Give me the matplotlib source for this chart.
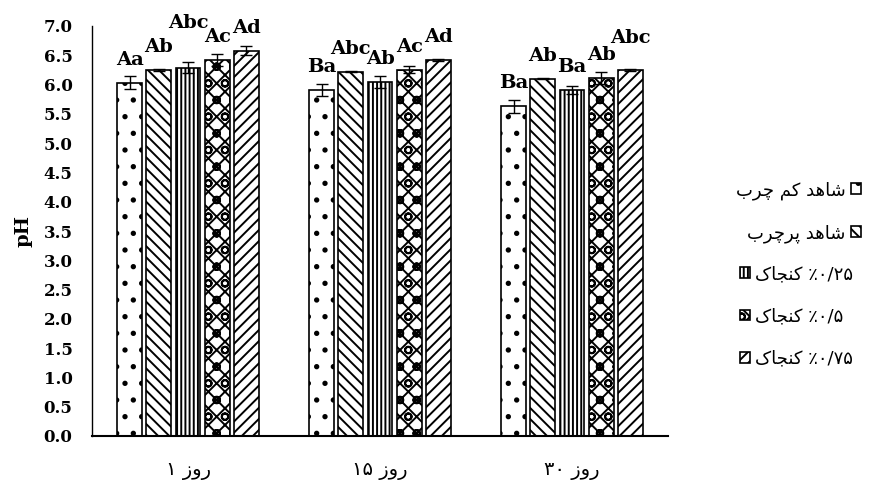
import numpy as np
import matplotlib
matplotlib.use('Agg')
import matplotlib.pyplot as plt
from matplotlib import font_manager
from matplotlib.ft2font import FT2Font

# data
days = ['روز ۱', 'روز ۱۵', 'روز ۳۰']
series = ['شاهد کم چرب', 'شاهد پرچرب', '٪۰/۲۵ کنجاک', '٪۰/۵ کنجاک', '٪۰/۷۵ کنجاک']
ph = [
    [6.03, 5.91, 5.63],
    [6.25, 6.22, 6.10],
    [6.29, 6.05, 5.91],
    [6.42, 6.25, 6.11],
    [6.58, 6.42, 6.25],
]
ph_err = [
    [0.11, 0.10, 0.11],
    [0.01, 0.01, 0.01],
    [0.10, 0.10, 0.07],
    [0.10, 0.06, 0.10],
    [0.08, 0.01, 0.01],
]
letters = [
    ['Aa', 'Ba', 'Ba'],
    ['Ab', 'Abc', 'Ab'],
    ['Abc', 'Ab', 'Ba'],
    ['Ac', 'Ac', 'Ab'],
    ['Ad', 'Ad', 'Abc'],
]
yticks = np.arange(0, 7.01, 0.5)

hatches = ['.', '\\\\\\', '||||', 'xxo', '///']

# minimal persian shaping (matplotlib does no arabic shaping / bidi)
FORMS = {
    'ا': ('\uFE8D', '\uFE8E', None, None),
    'ب': ('\uFE8F', '\uFE90', '\uFE91', '\uFE92'),
    'پ': ('\uFB56', '\uFB57', '\uFB58', '\uFB59'),
    'ج': ('\uFE9D', '\uFE9E', '\uFE9F', '\uFEA0'),
    'چ': ('\uFB7A', '\uFB7B', '\uFB7C', '\uFB7D'),
    'د': ('\uFEA9', '\uFEAA', None, None),
    'ر': ('\uFEAD', '\uFEAE', None, None),
    'ز': ('\uFEAF', '\uFEB0', None, None),
    'ش': ('\uFEB5', '\uFEB6', '\uFEB7', '\uFEB8'),
    'ک': ('\uFB8E', '\uFB8F', '\uFB90', '\uFB91'),
    'م': ('\uFEE1', '\uFEE2', '\uFEE3', '\uFEE4'),
    'ن': ('\uFEE5', '\uFEE6', '\uFEE7', '\uFEE8'),
    'ه': ('\uFEE9', '\uFEEA', '\uFEEB', '\uFEEC'),
    'و': ('\uFEED', '\uFEEE', None, None),
}
cmap = FT2Font(font_manager.findfont('DejaVu Sans')).get_charmap()


def shape_word(w):
    out = []
    for i, ch in enumerate(w):
        if ch not in FORMS:
            out.append(ch)
            continue
        iso, fin, ini, med = FORMS[ch]
        prev = w[i - 1] if i > 0 else None
        nxt = w[i + 1] if i + 1 < len(w) else None
        jp = prev in FORMS and FORMS[prev][2] is not None
        jn = ini is not None and nxt in FORMS
        if jp and jn:
            f = med
        elif jp:
            f = fin
        elif jn:
            f = ini
        else:
            f = iso
        out.append(f if ord(f) in cmap else ch)
    return ''.join(reversed(out))


def fa(text):
    parts = []
    for tok in text.split(' '):
        if any(c in FORMS for c in tok):
            parts.append(shape_word(tok))
        else:
            parts.append(tok)
    return ' '.join(reversed(parts))


plt.rcParams['hatch.linewidth'] = 1.4
plt.rcParams['font.family'] = 'DejaVu Serif'

fig = plt.figure(figsize=(8.73, 4.88), dpi=100)
ax = fig.add_axes([92 / 873, 1 - 436 / 488, 576 / 873, 410 / 488])

x = np.arange(len(days))
pitch = 0.152
width = 0.13
nudge = {(0, 2): 0.37, (2, 4): 0.15}   # labels Excel pushed up

bars = []
for i in range(len(series)):
    pos = x + (i - 2) * pitch
    b = ax.bar(pos, ph[i], width, color='white', edgecolor='black',
               linewidth=1.2, hatch=hatches[i], label=fa(series[i]))
    ax.errorbar(pos, ph[i], yerr=ph_err[i], fmt='none', ecolor='black',
                elinewidth=1, capsize=4, capthick=1)
    bars.append(b)
    for j in range(len(days)):
        ax.text(pos[j], ph[i][j] + 0.39 + nudge.get((j, i), 0), letters[i][j],
                ha='center', va='center', fontsize=14, fontweight='bold',
                family='DejaVu Serif')

ax.set_xlim(-0.5, 2.5)
ax.set_ylim(0, 7)
ax.set_yticks(yticks)
ax.set_yticklabels(['%.1f' % v for v in yticks], fontsize=12, fontweight='bold')
ax.set_xticks(x)
ax.set_xticklabels([fa(d) for d in days], fontsize=14, family='DejaVu Sans')
ax.tick_params(axis='y', length=0, pad=14)
ax.tick_params(axis='x', length=0, pad=18)
ax.set_ylabel('pH', fontsize=14, fontweight='bold', labelpad=8)

ax.spines['top'].set_visible(False)
ax.spines['right'].set_visible(False)
ax.spines['left'].set_linewidth(1)
ax.spines['bottom'].set_linewidth(1.5)

# legend: first two entries have the box on the right, rest on the left
leg_font = {'family': 'DejaVu Sans', 'size': 13}
leg1 = fig.legend(handles=bars[:2], loc='upper right', bbox_to_anchor=(870 / 873, 1 - 172 / 488),
                  frameon=False, markerfirst=False, prop=leg_font, handlelength=0.55,
                  handleheight=0.55, handletextpad=0.3, labelspacing=1.35, borderpad=0)
leg2 = fig.legend(handles=bars[2:], loc='upper left', bbox_to_anchor=(731 / 873, 1 - 256 / 488),
                  frameon=False, markerfirst=True, prop=leg_font, handlelength=0.55,
                  handleheight=0.55, handletextpad=0.3, labelspacing=1.35, borderpad=0)

fig.savefig('out.png', dpi=100)
